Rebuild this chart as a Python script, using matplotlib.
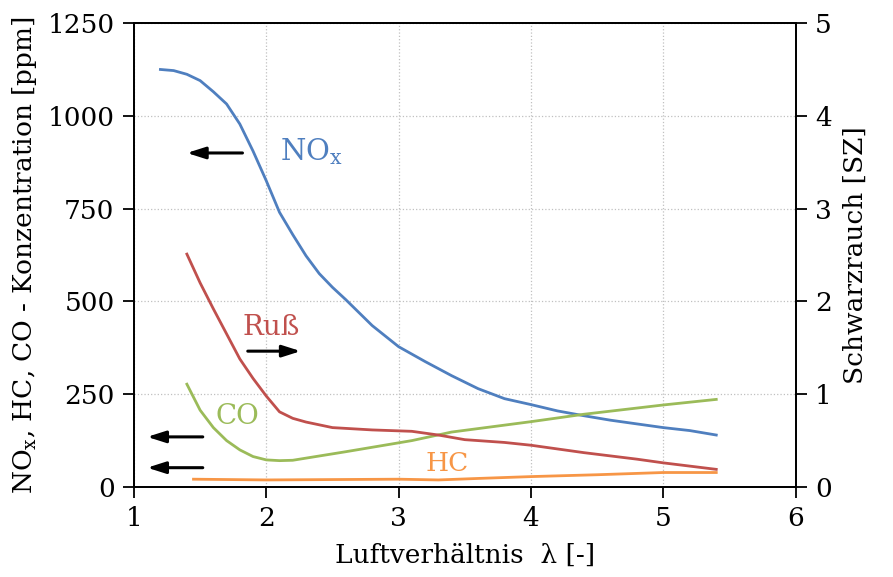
import matplotlib

matplotlib.use("Agg")
import matplotlib.pyplot as plt

plt.rcParams["font.family"] = ["DejaVu Serif"]
plt.rcParams["mathtext.fontset"] = "dejavuserif"

# NOx [ppm]
nox_lambda = [1.2, 1.3, 1.4, 1.5, 1.6, 1.7, 1.8, 1.9, 2.0, 2.1, 2.2, 2.3, 2.4, 2.5, 2.6,
              2.8, 3.0, 3.2, 3.4, 3.6, 3.8, 4.0, 4.2, 4.4, 4.6, 4.8, 5.0, 5.2, 5.4]
nox_ppm = [1125, 1122, 1112, 1095, 1065, 1032, 978, 905, 825, 740, 680, 623, 575, 538, 505,
           435, 378, 338, 300, 265, 238, 222, 205, 192, 180, 170, 160, 152, 140]

# Russ [SZ], right axis
russ_lambda = [1.4, 1.5, 1.6, 1.7, 1.8, 1.9, 2.0, 2.1, 2.2, 2.3, 2.5, 2.8, 3.1, 3.3,
               3.5, 3.8, 4.0, 4.4, 4.8, 5.0, 5.4]
russ_sz = [2.51, 2.20, 1.92, 1.65, 1.38, 1.17, 0.98, 0.81, 0.74, 0.70, 0.64, 0.615, 0.60,
           0.56, 0.51, 0.48, 0.45, 0.37, 0.30, 0.26, 0.19]

# CO [ppm]
co_lambda = [1.4, 1.5, 1.6, 1.7, 1.8, 1.9, 2.0, 2.1, 2.2, 2.6, 3.1, 3.4, 4.0, 4.4, 5.0, 5.4]
co_ppm = [277, 207, 160, 125, 100, 82, 73, 71, 72, 95, 125, 148, 176, 196, 221, 236]

# HC [ppm]
hc_lambda = [1.45, 2.0, 2.5, 3.0, 3.3, 3.6, 4.0, 4.5, 5.0, 5.4]
hc_ppm = [21, 19, 20, 21, 19, 23, 28, 33, 39, 39]

x_ticks = [1, 2, 3, 4, 5, 6]
left_ticks = [0, 250, 500, 750, 1000, 1250]
right_ticks = [0, 1, 2, 3, 4, 5]

BLUE = "#4f7fbf"
RED = "#c0504d"
GREEN = "#9bbb59"
ORANGE = "#f79646"
FS = 19

fig = plt.figure(figsize=(8.93, 5.77), dpi=100)
ax = fig.add_axes([0.150, 0.156, 0.741, 0.804])
ax2 = ax.twinx()

ax.plot(nox_lambda, nox_ppm, color=BLUE, lw=2)
ax.plot(co_lambda, co_ppm, color=GREEN, lw=2)
ax.plot(hc_lambda, hc_ppm, color=ORANGE, lw=2)
ax2.plot(russ_lambda, russ_sz, color=RED, lw=2)

ax.set_xlim(1, 6)
ax.set_ylim(0, 1250)
ax2.set_ylim(0, 5)
ax.set_xticks(x_ticks)
ax.set_yticks(left_ticks)
ax2.set_yticks(right_ticks)
ax.grid(True, color="#c0c0c0", ls=":", lw=0.9)

for a in (ax, ax2):
    a.tick_params(labelsize=FS, length=8, width=1.3, direction="out", pad=6)
    for s in a.spines.values():
        s.set_linewidth(1.3)

ax.set_xlabel(r"Luftverhältnis  λ [-]", fontsize=FS, labelpad=8)
ax.set_ylabel(r"NO$_\mathrm{x}$, HC, CO - Konzentration [ppm]", fontsize=FS, labelpad=6)
ax2.set_ylabel("Schwarzrauch [SZ]", fontsize=FS, labelpad=8)

arrow = dict(arrowstyle="-|>,head_length=1.1,head_width=0.35", color="black", lw=2.2,
             shrinkA=0, shrinkB=0)
ax.annotate("", xy=(1.4, 900), xytext=(1.82, 900), arrowprops=arrow)
ax.annotate("", xy=(2.26, 366), xytext=(1.86, 366), arrowprops=arrow)
ax.annotate("", xy=(1.1, 135), xytext=(1.52, 135), arrowprops=arrow)
ax.annotate("", xy=(1.1, 52), xytext=(1.52, 52), arrowprops=arrow)

ax.text(2.1, 905, r"NO$_\mathrm{x}$", color=BLUE, fontsize=21, ha="left", va="center")
ax.text(2.04, 431, "Ruß", color=RED, fontsize=20, ha="center", va="center")
ax.text(1.78, 189, "CO", color=GREEN, fontsize=20, ha="center", va="center")
ax.text(3.37, 62, "HC", color=ORANGE, fontsize=FS, ha="center", va="center")

fig.savefig("out.png", dpi=100)
